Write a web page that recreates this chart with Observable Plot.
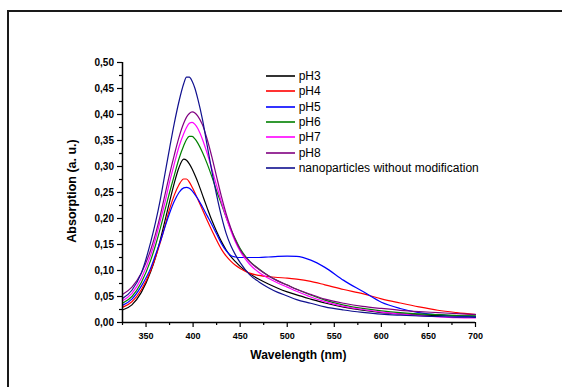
<!DOCTYPE html>
<html><head><meta charset="utf-8">
<script src="https://cdn.jsdelivr.net/npm/d3@7"></script>
<script src="https://cdn.jsdelivr.net/npm/@observablehq/plot@0.6"></script>
<style>
body{margin:0;background:#fff;}
#wrap{position:relative;width:562px;height:387px;overflow:hidden;font-family:"Liberation Sans",Arial,sans-serif;background:#fff;}
#frame{position:absolute;left:7px;top:9.5px;width:600px;height:420px;border-top:2px solid #1a1a1a;border-left:2px solid #1a1a1a;box-sizing:border-box;}
#chart{position:absolute;left:0;top:0;}
.leg{position:absolute;left:265.7px;height:14px;display:flex;align-items:center;font-size:12px;color:#000;white-space:nowrap;}
.leg svg{margin-right:4px;}
.title{position:absolute;font-weight:bold;font-size:12px;color:#000;white-space:nowrap;}
</style></head>
<body>
<div id="wrap">
<div id="frame"></div>
<div id="chart"></div>
<div id="legend"></div>
<div class="title" id="xt" style="left:298.4px;top:355px;transform:translate(-50%,-50%);">Wavelength (nm)</div>
<div class="title" id="yt" style="left:71.7px;top:191px;font-size:12.5px;transform:translate(-50%,-50%) rotate(-90deg);">Absorption (a. u.)</div>
</div>
<script>
const wavelength = [325,335,345,355,360,365,370,375,380,385,390,393,396,399,402,405,410,415,420,425,430,435,440,445,450,460,470,480,490,500,510,525,540,560,580,600,620,640,660,680,700];

const pH3 = [.024,.034,.058,.098,.125,.158,.195,.232,.268,.298,.314,.312,.305,.295,.283,.27,.245,.22,.196,.175,.156,.14,.127,.117,.108,.094,.083,.074,.066,.059,.053,.045,.0375,.0295,.0235,.019,.0165,.0145,.0135,.0125,.012];
const pH4 = [.029,.04,.063,.1,.125,.153,.185,.218,.245,.265,.276,.276,.27,.26,.249,.237,.217,.196,.177,.158,.141,.128,.118,.11,.104,.095,.0905,.088,.0865,.0855,.0835,.079,.0725,.0635,.0555,.0455,.0375,.030,.0235,.019,.0154];
const pH5 = [.033,.045,.07,.105,.13,.155,.183,.21,.233,.25,.259,.26,.258,.253,.246,.238,.222,.205,.188,.17,.152,.138,.129,.126,.125,.125,.125,.126,.127,.1275,.1272,.12,.106,.081,.06,.039,.027,.019,.015,.0125,.011];
const pH6 = [.037,.05,.077,.12,.148,.18,.215,.25,.283,.315,.34,.352,.358,.358,.353,.345,.327,.305,.28,.253,.228,.203,.18,.16,.142,.118,.103,.09,.08,.072,.064,.053,.043,.0335,.027,.0225,.019,.0165,.015,.0135,.0127];
const pH7 = [.042,.056,.085,.13,.16,.195,.23,.27,.305,.338,.363,.375,.383,.385,.381,.373,.352,.325,.295,.263,.232,.203,.177,.155,.137,.112,.096,.085,.076,.068,.06,.049,.04,.031,.025,.02,.016,.013,.011,.0095,.009];
const pH8 = [.054,.068,.095,.14,.17,.205,.245,.285,.322,.356,.383,.395,.402,.405,.403,.397,.38,.352,.318,.28,.243,.21,.182,.158,.14,.117,.102,.09,.08,.072,.064,.054,.045,.037,.031,.027,.0235,.021,.019,.017,.0155];
const nano = [.046,.062,.095,.155,.192,.235,.285,.335,.383,.425,.459,.472,.472,.464,.45,.43,.39,.34,.29,.245,.205,.172,.148,.13,.115,.092,.078,.067,.058,.051,.044,.037,.030,.024,.0195,.016,.014,.0125,.0115,.0105,.010];

const seriesNames = ["pH3","pH4","pH5","pH6","pH7","pH8","nanoparticles without modification"];
const seriesColors = ["#000000","#ff0000","#0000ff","#008000","#ff00ff","#800080","#10108f"];
const seriesValues = [pH3,pH4,pH5,pH6,pH7,pH8,nano];

const xDomain = [325,700];
const yDomain = [0,0.5];
const xTicks = [350,400,450,500,550,600,650,700];
const xMinor = [325,375,425,475,525,575,625,675];
const yTicks = [0,0.05,0.1,0.15,0.2,0.25,0.3,0.35,0.4,0.45,0.5];
const yMinor = [0.025,0.075,0.125,0.175,0.225,0.275,0.325,0.375,0.425,0.475];

const rows = seriesNames.flatMap((name,i)=>wavelength.map((w,j)=>({name, w, a: seriesValues[i][j]})));

const chart = Plot.plot({
  width:562, height:387,
  marginLeft:122, marginRight:87, marginTop:62, marginBottom:65,
  x:{domain:xDomain},
  y:{domain:yDomain},
  color:{domain:seriesNames, range:seriesColors},
  style:{fontFamily:"Liberation Sans, Arial, sans-serif", background:"transparent", color:"#000"},
  marks:[
    Plot.line(rows,{x:"w",y:"a",z:"name",stroke:"name",strokeWidth:1.2,curve:"monotone-x"}),
    Plot.axisX({ticks:xTicks, tickSize:5, tickPadding:5, tickFormat:d=>String(d), fontSize:9, fontWeight:"bold", label:null, strokeWidth:1.2}),
    Plot.axisX({ticks:xMinor, tickSize:3, tickFormat:()=>"", label:null, strokeWidth:1.2}),
    Plot.axisY({ticks:yTicks, tickSize:5, tickPadding:3.5, tickFormat:d=>d.toFixed(2).replace(".",","), fontSize:10, fontWeight:"bold", label:null, strokeWidth:1.2}),
    Plot.axisY({ticks:yMinor, tickSize:3, tickFormat:()=>"", label:null, strokeWidth:1.2}),
    Plot.ruleX([xDomain[0]],{strokeWidth:1.5}),
    Plot.ruleY([yDomain[0]],{strokeWidth:1.5})
  ]
});
document.getElementById("chart").appendChild(chart);

const legend = document.getElementById("legend");
const NS = "http://www.w3.org/2000/svg";
seriesNames.forEach((name,i)=>{
  const d = document.createElement("div");
  d.className = "leg";
  d.style.top = (75.7 + i*15.43 - 7) + "px";
  const s = document.createElementNS(NS,"svg");
  s.setAttribute("width","29"); s.setAttribute("height","4");
  const l = document.createElementNS(NS,"line");
  l.setAttribute("x1","0"); l.setAttribute("x2","29");
  l.setAttribute("y1","2"); l.setAttribute("y2","2");
  l.setAttribute("stroke", seriesColors[i]);
  l.setAttribute("stroke-width","1.6");
  s.appendChild(l);
  d.appendChild(s);
  d.appendChild(document.createTextNode(name));
  legend.appendChild(d);
});
</script>
</body></html>
